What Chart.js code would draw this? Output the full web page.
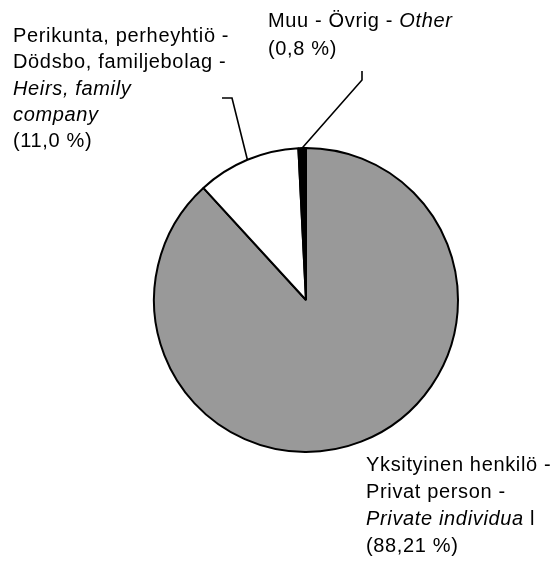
<!DOCTYPE html>
<html>
<head>
<meta charset="utf-8">
<script src="https://cdn.jsdelivr.net/npm/chart.js@4"></script>
<style>
  html, body { margin: 0; padding: 0; background: #fff; }
  #wrap { width: 558px; height: 567px; }
</style>
</head>
<body>
<div id="wrap"><canvas id="ownerChart" width="558" height="567"></canvas></div>
<script>
// Owner groups, clockwise from 12 o'clock
const categories = [
  "Yksityinen henkilö - Privat person - Private individual",
  "Perikunta, perheyhtiö - Dödsbo, familjebolag - Heirs, family company",
  "Muu - Övrig - Other",
];
const shares = [88.21, 11.0, 0.8];
const shareText = ["(88,21 %)", "(11,0 %)", "(0,8 %)"];
const sliceColors = ["#999999", "#ffffff", "#000000"];

// label lines: each line is a list of [text, italic] runs
const labelLines = [
  [
    [["Yksityinen henkilö -", false]],
    [["Privat person -", false]],
    [["Private individua", true], [" l", false]],
  ],
  [
    [["Perikunta, perheyhtiö -", false]],
    [["Dödsbo, familjebolag -", false]],
    [["Heirs, family", true]],
    [["company", true]],
  ],
  [[["Muu - Övrig - ", false], ["Other", true]]],
];

// where each label sits and how its leader bends
const labelLayout = [
  { x: 366, y: 471, lh: 27, leader: null },
  { x: 13, y: 42, lh: 26.3, leader: [[232, 98], [222, 98]] },
  { x: 268, y: 27, lh: 28, leader: [[362, 80], [362, 71]] },
];

const FONT = '"Liberation Sans", Arial, sans-serif';

const sliceLabels = {
  id: "sliceLabels",
  afterDatasetsDraw(chart) {
    const ctx = chart.ctx;
    const arcs = chart.getDatasetMeta(0).data;
    ctx.save();
    arcs.forEach((arc, i) => {
      const lay = labelLayout[i];
      const p = arc.getProps(["x", "y", "startAngle", "endAngle", "outerRadius"], true);
      // leader line from slice edge
      if (lay.leader) {
        const mid = (p.startAngle + p.endAngle) / 2;
        ctx.beginPath();
        ctx.moveTo(p.x + Math.cos(mid) * p.outerRadius, p.y + Math.sin(mid) * p.outerRadius);
        lay.leader.forEach(([lx, ly]) => ctx.lineTo(lx, ly));
        ctx.strokeStyle = "#000";
        ctx.lineWidth = 1.6;
        ctx.stroke();
      }
      // text
      const lines = labelLines[i].concat([[[shareText[i], false]]]);
      ctx.fillStyle = "#000";
      ctx.textBaseline = "alphabetic";
      ctx.textAlign = "left";
      if ("letterSpacing" in ctx) ctx.letterSpacing = "0.65px";
      lines.forEach((runs, j) => {
        let x = lay.x;
        const y = lay.y + j * lay.lh;
        runs.forEach(([txt, it]) => {
          ctx.font = (it ? "italic " : "") + "20px " + FONT;
          ctx.fillText(txt, x, y);
          x += ctx.measureText(txt).width;
        });
      });
    });
    ctx.restore();
  },
};

new Chart(document.getElementById("ownerChart"), {
  type: "pie",
  data: {
    labels: categories,
    datasets: [
      {
        data: shares,
        backgroundColor: sliceColors,
        borderColor: "#000",
        borderWidth: 2,
      },
    ],
  },
  options: {
    responsive: false,
    animation: false,
    events: [],
    layout: { padding: { left: 153, right: 99, top: 147, bottom: 114 } },
    plugins: { legend: { display: false }, tooltip: { enabled: false } },
  },
  plugins: [sliceLabels],
});
</script>
</body>
</html>
